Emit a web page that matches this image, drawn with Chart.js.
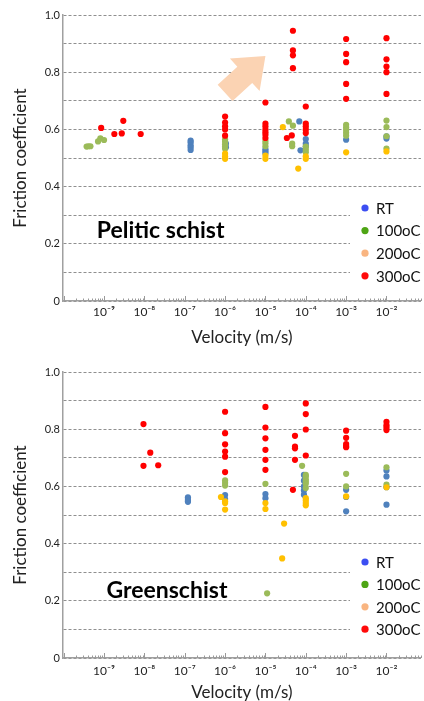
<!DOCTYPE html>
<html><head><meta charset="utf-8">
<script src="https://cdn.jsdelivr.net/npm/chart.js@4/dist/chart.umd.min.js"></script>
<style>
html,body{margin:0;padding:0;background:#fff;overflow:hidden;}
#wrap{position:relative;width:424px;height:701px;}
.box{position:absolute;left:0;width:424px;}
</style></head><body>
<div id="wrap">
<div class="box" style="top:0;height:350px"><canvas id="c1" width="424" height="350"></canvas></div>
<div class="box" style="top:350px;height:351px"><canvas id="c2" width="424" height="351"></canvas></div>
</div>
<script>
// ---------- DATA ----------
const seriesNames = ['RT', '100oC', '200oC', '300oC'];
const xTickValues = [1e-9, 1e-8, 1e-7, 1e-6, 1e-5, 1e-4, 1e-3, 1e-2];
const xTickLabels = ['10⁻⁹', '10⁻⁸', '10⁻⁷', '10⁻⁶', '10⁻⁵', '10⁻⁴', '10⁻³', '10⁻²'];
const yTickValues = [0, 0.1, 0.2, 0.3, 0.4, 0.5, 0.6, 0.7, 0.8, 0.9, 1.0];
const yTickLabels = ['0', '', '0.2', '', '0.4', '', '0.6', '', '0.8', '', '1.0'];

// Pelitic schist (velocity m/s, friction coefficient)
const ps_RT_v  = [1.4e-7, 1.4e-7, 1.4e-7, 1.4e-7, 1.4e-7, 1.05e-6, 1.05e-6, 1e-5, 1e-5, 1e-5, 6.9e-5, 7.4e-5, 1e-4, 1e-4, 1e-4, 1e-3, 1e-2, 1e-2];
const ps_RT_mu = [0.561, 0.555, 0.545, 0.537, 0.528, 0.550, 0.538, 0.531, 0.524, 0.517, 0.628, 0.527, 0.566, 0.550, 0.540, 0.564, 0.576, 0.568];
const ps_100_v  = [3.7e-10, 4.1e-10, 4.6e-10, 7.1e-10, 8.1e-10, 1e-9, 1e-6, 1e-6, 1e-6, 1e-6, 1e-6, 1e-5, 1e-5, 1e-5, 3.8e-5, 4.8e-5, 4.6e-5, 4.6e-5, 1e-4, 1e-4, 1e-4, 1e-3, 1e-3, 1e-3, 1e-3, 1e-3, 1e-2, 1e-2, 1e-2, 1e-2];
const ps_100_mu = [0.540, 0.541, 0.541, 0.558, 0.569, 0.563, 0.565, 0.557, 0.548, 0.540, 0.532, 0.560, 0.552, 0.541, 0.628, 0.613, 0.550, 0.541, 0.540, 0.529, 0.520, 0.616, 0.607, 0.598, 0.588, 0.578, 0.631, 0.608, 0.576, 0.533];
const ps_200_v  = [1e-6, 1e-6, 1e-6, 1e-5, 1e-5, 2.7e-5, 6.5e-5, 1e-4, 1e-4, 1e-3, 1e-2];
const ps_200_mu = [0.515, 0.505, 0.497, 0.508, 0.497, 0.608, 0.463, 0.506, 0.497, 0.520, 0.523];
const ps_300_v  = [8.5e-10, 1.8e-9, 2.75e-9, 3e-9, 8.1e-9, 1e-6, 1e-6, 1e-6, 1e-6, 1e-6, 1e-5, 1e-5, 1e-5, 1e-5, 1e-5, 1e-5, 1e-5, 4.8e-5, 4.8e-5, 4.8e-5, 4.8e-5, 3.4e-5, 4.5e-5, 1e-4, 1e-4, 1e-4, 1e-4, 1e-4, 1e-3, 1e-3, 1e-3, 1e-3, 1e-3, 1e-2, 1e-2, 1e-2, 1e-2, 1e-2];
const ps_300_mu = [0.605, 0.584, 0.586, 0.630, 0.584, 0.645, 0.624, 0.611, 0.600, 0.578, 0.694, 0.620, 0.610, 0.599, 0.590, 0.581, 0.570, 0.945, 0.876, 0.859, 0.814, 0.570, 0.579, 0.680, 0.620, 0.610, 0.599, 0.587, 0.916, 0.864, 0.835, 0.759, 0.707, 0.919, 0.845, 0.820, 0.800, 0.724];

// Greenschist
const gs_RT_v  = [1.2e-7, 1.2e-7, 1.2e-7, 1.2e-7, 1e-6, 1e-6, 1e-5, 1e-5, 9e-5, 9e-5, 9e-5, 9e-5, 9e-5, 1e-3, 1e-3, 1e-3, 1e-2, 1e-2, 1e-2, 1e-2];
const gs_RT_mu = [0.562, 0.556, 0.550, 0.546, 0.570, 0.556, 0.573, 0.559, 0.640, 0.620, 0.600, 0.586, 0.571, 0.588, 0.563, 0.513, 0.656, 0.635, 0.597, 0.536];
const gs_100_v  = [1e-6, 1e-6, 1e-6, 1e-5, 1.1e-5, 8.1e-5, 1e-4, 1e-4, 1e-4, 1e-4, 1e-4, 1e-4, 1e-3, 1e-3, 1e-2, 1e-2];
const gs_100_mu = [0.621, 0.612, 0.603, 0.609, 0.226, 0.672, 0.640, 0.635, 0.625, 0.617, 0.609, 0.594, 0.644, 0.600, 0.667, 0.606];
const gs_200_v  = [7.9e-7, 1e-6, 1e-6, 1e-6, 1e-5, 1e-5, 2.9e-5, 2.6e-5, 1e-4, 1e-4, 1e-4, 1e-4, 1e-3, 1e-2];
const gs_200_mu = [0.563, 0.548, 0.542, 0.519, 0.542, 0.521, 0.470, 0.348, 0.559, 0.551, 0.542, 0.534, 0.565, 0.597];
const gs_300_v  = [9.5e-9, 9.5e-9, 1.4e-8, 2.2e-8, 1e-6, 1e-6, 1e-6, 1e-6, 1e-6, 1e-6, 1e-5, 1e-5, 1e-5, 1e-5, 1e-5, 1e-5, 5.4e-5, 5.4e-5, 5.4e-5, 5.4e-5, 4.8e-5, 1e-4, 1e-4, 1e-4, 1e-4, 1e-3, 1e-3, 1e-3, 1e-3, 1e-3, 1e-2, 1e-2, 1e-2, 1e-2];
const gs_300_mu = [0.818, 0.672, 0.718, 0.674, 0.861, 0.786, 0.747, 0.722, 0.704, 0.650, 0.878, 0.806, 0.768, 0.728, 0.693, 0.658, 0.777, 0.739, 0.733, 0.693, 0.588, 0.890, 0.853, 0.799, 0.708, 0.795, 0.770, 0.748, 0.741, 0.737, 0.826, 0.814, 0.806, 0.797];

// ---------- STYLE ----------
const pointColors = ['#4f81bd', '#9bbb59', '#ffc000', '#ff0000'];
const legendColors = ['#3c4ef2', '#4ea515', '#f9b581', '#ff0a0a'];
const FONT = "Lato, 'Noto Sans', 'DejaVu Sans', sans-serif";

const minorTicks = {
  id: 'minorTicks',
  afterDatasetsDraw(chart) {
    const xs = chart.scales.x, ca = chart.chartArea, ctx = chart.ctx;
    ctx.save();
    ctx.strokeStyle = '#9a9a9a';
    ctx.lineWidth = 1;
    for (let e = -11; e <= 0; e++) {
      for (let k = 1; k <= 9; k++) {
        const v = k * Math.pow(10, e);
        if (v < xs.min || v > xs.max) continue;
        const px = Math.round(xs.getPixelForValue(v)) + 0.5;
        ctx.beginPath();
        ctx.moveTo(px, ca.bottom);
        ctx.lineTo(px, ca.bottom - (k === 1 ? 5 : 2.5));
        ctx.stroke();
      }
    }
    ctx.restore();
  }
};

const customLegend = {
  id: 'customLegend',
  beforeDatasetsDraw(chart, args, opts) {
    const ca = chart.chartArea, ctx = chart.ctx;
    const top = ca.top + opts.firstY;
    ctx.save();
    ctx.fillStyle = '#ffffff';
    ctx.fillRect(opts.boxLeft, top - 12, ca.right - opts.boxLeft, opts.step * 4 + 4);
    ctx.font = '15px ' + FONT;
    ctx.textBaseline = 'middle';
    ctx.textAlign = 'left';
    seriesNames.forEach((n, i) => {
      const y = top + i * opts.step;
      ctx.fillStyle = legendColors[i];
      ctx.beginPath();
      ctx.arc(opts.dotX, y, 3.6, 0, Math.PI * 2);
      ctx.fill();
      ctx.fillStyle = '#111111';
      ctx.fillText(n, opts.textX, y + 1);
    });
    ctx.restore();
  }
};

const panelDecor = {
  id: 'panelDecor',
  afterDatasetsDraw(chart, args, opts) {
    const xs = chart.scales.x, ys = chart.scales.y, ctx = chart.ctx;
    ctx.save();
    if (opts.arrow) {
      const a = opts.arrow;
      const tx = xs.getPixelForValue(a.x0), ty = ys.getPixelForValue(a.y0);
      const hx = xs.getPixelForValue(a.x1), hy = ys.getPixelForValue(a.y1);
      const L = Math.hypot(hx - tx, hy - ty);
      const ux = (hx - tx) / L, uy = (hy - ty) / L;
      const nx = -uy, ny = ux;
      const bx = hx - ux * a.head, by = hy - uy * a.head;
      ctx.fillStyle = a.color;
      ctx.beginPath();
      ctx.moveTo(tx + nx * a.shaft, ty + ny * a.shaft);
      ctx.lineTo(bx + nx * a.shaft, by + ny * a.shaft);
      ctx.lineTo(bx + nx * a.half, by + ny * a.half);
      ctx.lineTo(hx, hy);
      ctx.lineTo(bx - nx * a.half, by - ny * a.half);
      ctx.lineTo(bx - nx * a.shaft, by - ny * a.shaft);
      ctx.lineTo(tx - nx * a.shaft, ty - ny * a.shaft);
      ctx.closePath();
      ctx.fill();
    }
    ctx.font = 'bold 23px ' + FONT;
    ctx.fillStyle = '#000000';
    ctx.textBaseline = 'alphabetic';
    ctx.textAlign = 'left';
    ctx.fillText(opts.text, xs.getPixelForValue(opts.tx), ys.getPixelForValue(opts.ty));
    ctx.restore();
  }
};

function makeData(vs, mus) {
  return {
    datasets: seriesNames.map((n, i) => ({
      label: n,
      data: vs[i].map((x, j) => ({ x: x, y: mus[i][j] })),
      backgroundColor: pointColors[i],
      borderWidth: 0,
      pointRadius: 3.1,
      pointHoverRadius: 3.1,
      order: 4 - i
    }))
  };
}

function makeChart(id, data, cfg) {
  return new Chart(document.getElementById(id), {
    type: 'scatter',
    data: data,
    plugins: [customLegend, minorTicks, panelDecor],
    options: {
      responsive: false,
      animation: false,
      layout: { padding: { top: cfg.padTop, right: 0, bottom: 0, left: 0 } },
      plugins: {
        legend: { display: false },
        tooltip: { enabled: false },
        customLegend: cfg.legend,
        panelDecor: cfg.decor
      },
      scales: {
        x: {
          type: 'logarithmic',
          bounds: 'data',
          min: Math.pow(10, -10.017),
          max: Math.pow(10, -1.147),
          afterBuildTicks: s => { s.ticks = xTickValues.map(v => ({ value: v, major: true })); },
          afterFit: s => { s.height = cfg.xAxisH; },
          grid: { display: false, drawTicks: false },
          border: { display: true, color: '#a0a0a0', width: 1.5 },
          ticks: {
            autoSkip: false, maxRotation: 0, minRotation: 0,
            padding: cfg.xTickPad,
            color: '#222222',
            font: { family: FONT, size: 12 },
            callback: (v) => {
              const i = xTickValues.findIndex(t => Math.abs(Math.log10(t) - Math.log10(v)) < 1e-6);
              return i >= 0 ? xTickLabels[i] : '';
            }
          },
          title: {
            display: true, text: 'Velocity (m/s)', color: '#222222',
            font: { family: FONT, size: 17, lineHeight: 1 },
            padding: { top: 0, bottom: cfg.xTitlePad }
          }
        },
        y: {
          min: 0, max: 1,
          afterBuildTicks: s => { s.ticks = yTickValues.map(v => ({ value: v })); },
          afterFit: s => { s.width = 63; s.paddingTop = 0; s.paddingBottom = 0; },
          grid: { color: '#8f8f8f', lineWidth: 1, drawTicks: false },
          border: { display: true, color: '#a0a0a0', width: 1.5, dash: [3, 2] },
          ticks: {
            autoSkip: false, padding: 3, color: '#222222',
            font: { family: FONT, size: 11 },
            callback: (v) => {
              const i = yTickValues.findIndex(t => Math.abs(t - v) < 1e-6);
              return i >= 0 ? yTickLabels[i] : '';
            }
          },
          title: {
            display: true, text: 'Friction coefficient', color: '#222222',
            font: { family: FONT, size: 17, lineHeight: 1 },
            padding: { top: 12, bottom: 0 }
          }
        }
      }
    }
  });
}

makeChart('c1',
  makeData([ps_RT_v, ps_100_v, ps_200_v, ps_300_v], [ps_RT_mu, ps_100_mu, ps_200_mu, ps_300_mu]),
  {
    padTop: 15, xAxisH: 49, xTickPad: 4, xTitlePad: 4,
    legend: { firstY: 193, step: 22.6, boxLeft: 350, dotX: 365, textX: 376 },
    decor: {
      text: 'Pelitic schist', tx: Math.pow(10, -9.18), ty: 0.222,
      arrow: { x0: 1e-6, y0: 0.728, x1: 1e-5, y1: 0.857, head: 28, half: 22, shaft: 11, color: '#fbd3b3' }
    }
  });

makeChart('c2',
  makeData([gs_RT_v, gs_100_v, gs_200_v, gs_300_v], [gs_RT_mu, gs_100_mu, gs_200_mu, gs_300_mu]),
  {
    padTop: 22, xAxisH: 43, xTickPad: 6, xTitlePad: 0,
    legend: { firstY: 190, step: 22.4, boxLeft: 350, dotX: 365, textX: 376 },
    decor: { text: 'Greenschist', tx: Math.pow(10, -8.94), ty: 0.21 }
  });
</script>
</body></html>
